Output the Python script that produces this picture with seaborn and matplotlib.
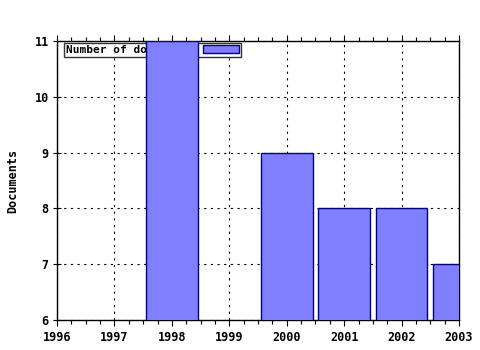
import matplotlib
matplotlib.use("Agg")
import matplotlib.pyplot as plt
import seaborn as sns
import pandas as pd
from matplotlib.ticker import MultipleLocator

years = [1998, 2000, 2001, 2002, 2003]
documents = [11, 9, 8, 8, 7]
series_label = "Number of documents"
xticks = [1996, 1997, 1998, 1999, 2000, 2001, 2002, 2003]
yticks = [6, 7, 8, 9, 10, 11]

sns.set_style("white")
plt.rcParams['font.family'] = ['DejaVu Sans Mono', 'DejaVu Sans']
plt.rcParams['text.color'] = 'black'
plt.rcParams['axes.labelcolor'] = 'black'
plt.rcParams['xtick.color'] = 'black'
plt.rcParams['ytick.color'] = 'black'

df = pd.DataFrame({"year": years, "docs": documents})

fig = plt.figure(figsize=(4.8, 3.5), dpi=100)
ax = fig.add_axes([57/480, 1-320/350, (459-57)/480, (320-41)/350])

sns.barplot(data=df, x="year", y="docs", native_scale=True, width=0.9,
            color="#8080FF", saturation=1, edgecolor="#000080", linewidth=1,
            label=series_label, ax=ax, zorder=3)

ax.set_xlim(1996, 2003)
ax.set_ylim(6, 11)
ax.set_xticks(xticks)
ax.set_yticks(yticks)
ax.set_xticklabels([str(x) for x in xticks], fontsize=8.5, fontweight="bold")
ax.set_yticklabels([str(y) for y in yticks], fontsize=8.5, fontweight="bold")
ax.xaxis.set_minor_locator(MultipleLocator(0.25))
ax.tick_params(axis="x", which="both", direction="out", top=True, bottom=True, length=3, width=0.8, pad=4, colors="black")
ax.tick_params(axis="x", which="major", length=4)
ax.tick_params(axis="y", which="major", direction="inout", left=True, length=6, width=0.8, pad=3, colors="black")
ax.grid(True, which="major", color="black", linestyle=(0, (2, 4)), linewidth=0.8, zorder=1)
ax.set_axisbelow(True)
for s in ax.spines.values():
    s.set_color("black")
    s.set_linewidth(1)
ax.set_xlabel("")
ax.set_ylabel("Documents", fontsize=8.5, fontweight="bold", labelpad=11, color="black")

leg = ax.legend(loc="upper left", bbox_to_anchor=(7/402, 1-2/279), markerfirst=False,
                frameon=True, fancybox=False, borderpad=0.2, handlelength=3.2,
                handleheight=0.7, handletextpad=0.8, borderaxespad=0,
                prop={"family": "DejaVu Sans Mono", "weight": "bold", "size": 8})
leg.get_frame().set_edgecolor("black")
leg.get_frame().set_linewidth(1)
for t in leg.get_texts():
    t.set_color("black")
leg.set_zorder(2)

fig.savefig("out.png", dpi=100)
